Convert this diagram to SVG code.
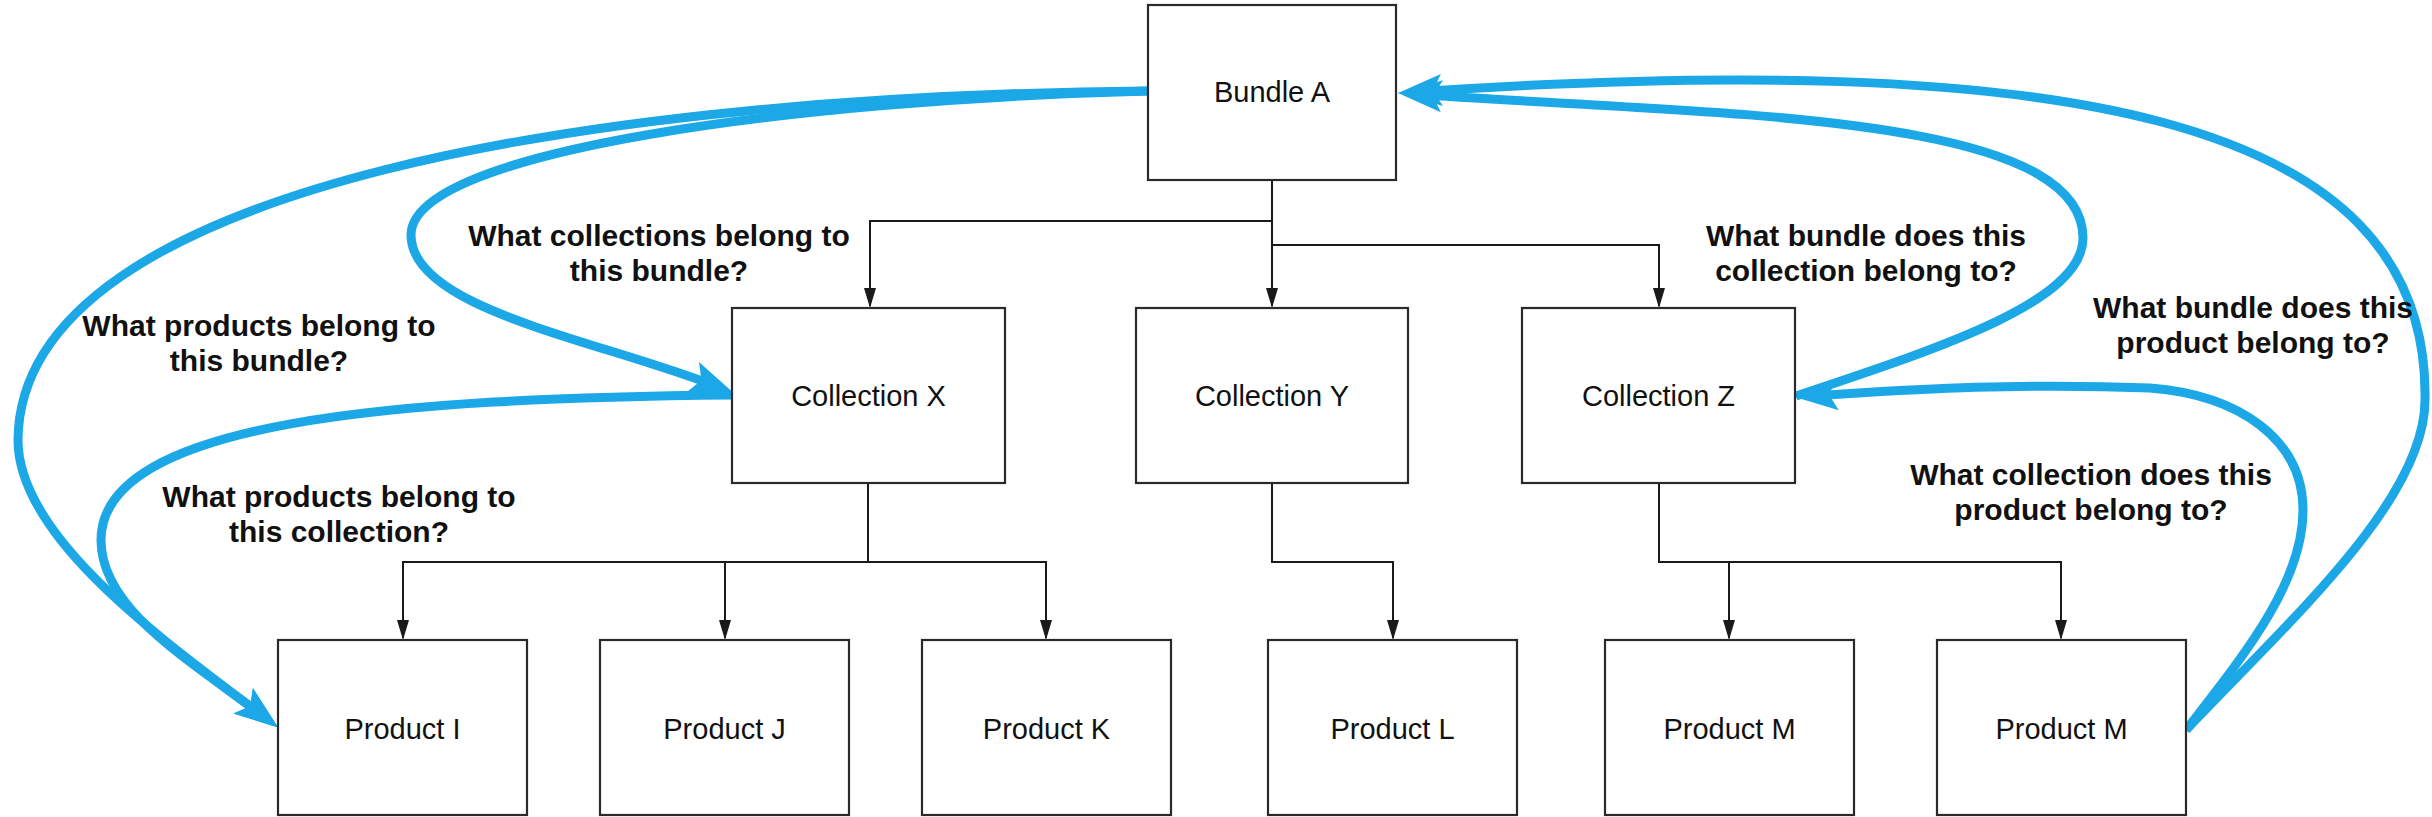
<svg xmlns="http://www.w3.org/2000/svg" width="2432" height="817" viewBox="0 0 2432 817">
  <style>
    .node rect { fill: #ffffff; stroke: #2a2a2a; stroke-width: 2.2; }
    .node text { font-family: "Liberation Sans", Arial, sans-serif; font-size: 29px; fill: #111; text-anchor: middle; }
    .tree { fill: none; stroke: #1a1a1a; stroke-width: 2; }
    .query { fill: none; stroke: #1ca8e6; stroke-width: 9; stroke-linecap: butt; stroke-linejoin: round; }
    .q-label { font-family: "Liberation Sans", Arial, sans-serif; font-size: 30px; font-weight: bold; fill: #111; text-anchor: middle; }
  </style>
  <defs>
    <marker id="treeHead" viewBox="-20 -7 24 14" refX="0" refY="0" markerWidth="24" markerHeight="14" markerUnits="userSpaceOnUse" orient="auto">
      <path d="M2,0 L-18,-6 L-18,6 Z" fill="#1a1a1a"/>
    </marker>
    <marker id="queryHead" viewBox="-32 -18 48 36" refX="0" refY="0" markerWidth="48" markerHeight="36" markerUnits="userSpaceOnUse" orient="auto">
      <path d="M14,0 L-30,-16 L-21,0 L-30,16 Z" fill="#1ca8e6"/>
    </marker>
  </defs>

  <rect width="2432" height="817" fill="#ffffff"/>

  <!-- hierarchy connectors and query arrows -->
  <g id="connectors">
    <!-- Bundle A to collections -->
    <path class="tree" d="M1272,180 V306" marker-end="url(#treeHead)"/>
    <path class="tree" d="M1272,221 H870 V306" marker-end="url(#treeHead)"/>
    <path class="tree" d="M1272,245 H1659 V306" marker-end="url(#treeHead)"/>
    <!-- Collection X to products -->
    <path class="tree" d="M868,483 V562 H403 V638" marker-end="url(#treeHead)"/>
    <path class="tree" d="M868,562 H725 V638" marker-end="url(#treeHead)"/>
    <path class="tree" d="M868,562 H1046 V638" marker-end="url(#treeHead)"/>
    <!-- Collection Y to product -->
    <path class="tree" d="M1272,483 V562 H1393 V638" marker-end="url(#treeHead)"/>
    <!-- Collection Z to products -->
    <path class="tree" d="M1659,483 V562 H1729 V638" marker-end="url(#treeHead)"/>
    <path class="tree" d="M1729,562 H2061 V638" marker-end="url(#treeHead)"/>

    <!-- query arrows -->
    <path class="query" d="M1148,91 C620,95 20,180 18,440 C18,540 170,645 267,719" marker-end="url(#queryHead)"/>
    <path class="query" d="M1148,91 C800,100 411,150 411,235 C411,310 600,340 721,388" marker-end="url(#queryHead)"/>
    <path class="query" d="M733,395 C400,398 101,420 101,540 C101,610 190,660 267,719" marker-end="url(#queryHead)"/>
    <path class="query" d="M1796,396 C1950,345 2083,300 2083,238 C2083,110 1700,115 1412,94" marker-end="url(#queryHead)"/>
    <path class="query" d="M2186,730 C2240,660 2303,585 2303,510 C2303,440 2240,395 2150,388 C2000,382 1880,392 1808,396" marker-end="url(#queryHead)"/>
    <path class="query" d="M2186,730 C2290,620 2425,500 2425,400 C2430,110 2050,50 1412,92" marker-end="url(#queryHead)"/>
  </g>

  <!-- query labels -->
  <g id="labels">
    <text class="q-label" x="659" y="246">What collections belong to</text>
    <text class="q-label" x="659" y="281">this bundle?</text>
    <text class="q-label" x="259" y="336">What products belong to</text>
    <text class="q-label" x="259" y="371">this bundle?</text>
    <text class="q-label" x="339" y="507">What products belong to</text>
    <text class="q-label" x="339" y="542">this collection?</text>
    <text class="q-label" x="1866" y="246">What bundle does this</text>
    <text class="q-label" x="1866" y="281">collection belong to?</text>
    <text class="q-label" x="2253" y="318">What bundle does this</text>
    <text class="q-label" x="2253" y="353">product belong to?</text>
    <text class="q-label" x="2091" y="485">What collection does this</text>
    <text class="q-label" x="2091" y="520">product belong to?</text>
  </g>

  <!-- nodes -->
  <g id="bundle-a" class="node">
    <rect x="1148" y="5" width="248" height="175"/>
    <text x="1272" y="102">Bundle A</text>
  </g>
  <g id="collection-x" class="node">
    <rect x="732" y="308" width="273" height="175"/>
    <text x="868.5" y="406">Collection X</text>
  </g>
  <g id="collection-y" class="node">
    <rect x="1136" y="308" width="272" height="175"/>
    <text x="1272" y="406">Collection Y</text>
  </g>
  <g id="collection-z" class="node">
    <rect x="1522" y="308" width="273" height="175"/>
    <text x="1658.5" y="406">Collection Z</text>
  </g>
  <g id="product-i" class="node">
    <rect x="278" y="640" width="249" height="175"/>
    <text x="402.5" y="739">Product I</text>
  </g>
  <g id="product-j" class="node">
    <rect x="600" y="640" width="249" height="175"/>
    <text x="724.5" y="739">Product J</text>
  </g>
  <g id="product-k" class="node">
    <rect x="922" y="640" width="249" height="175"/>
    <text x="1046.5" y="739">Product K</text>
  </g>
  <g id="product-l" class="node">
    <rect x="1268" y="640" width="249" height="175"/>
    <text x="1392.5" y="739">Product L</text>
  </g>
  <g id="product-m1" class="node">
    <rect x="1605" y="640" width="249" height="175"/>
    <text x="1729.5" y="739">Product M</text>
  </g>
  <g id="product-m2" class="node">
    <rect x="1937" y="640" width="249" height="175"/>
    <text x="2061.5" y="739">Product M</text>
  </g>
</svg>
